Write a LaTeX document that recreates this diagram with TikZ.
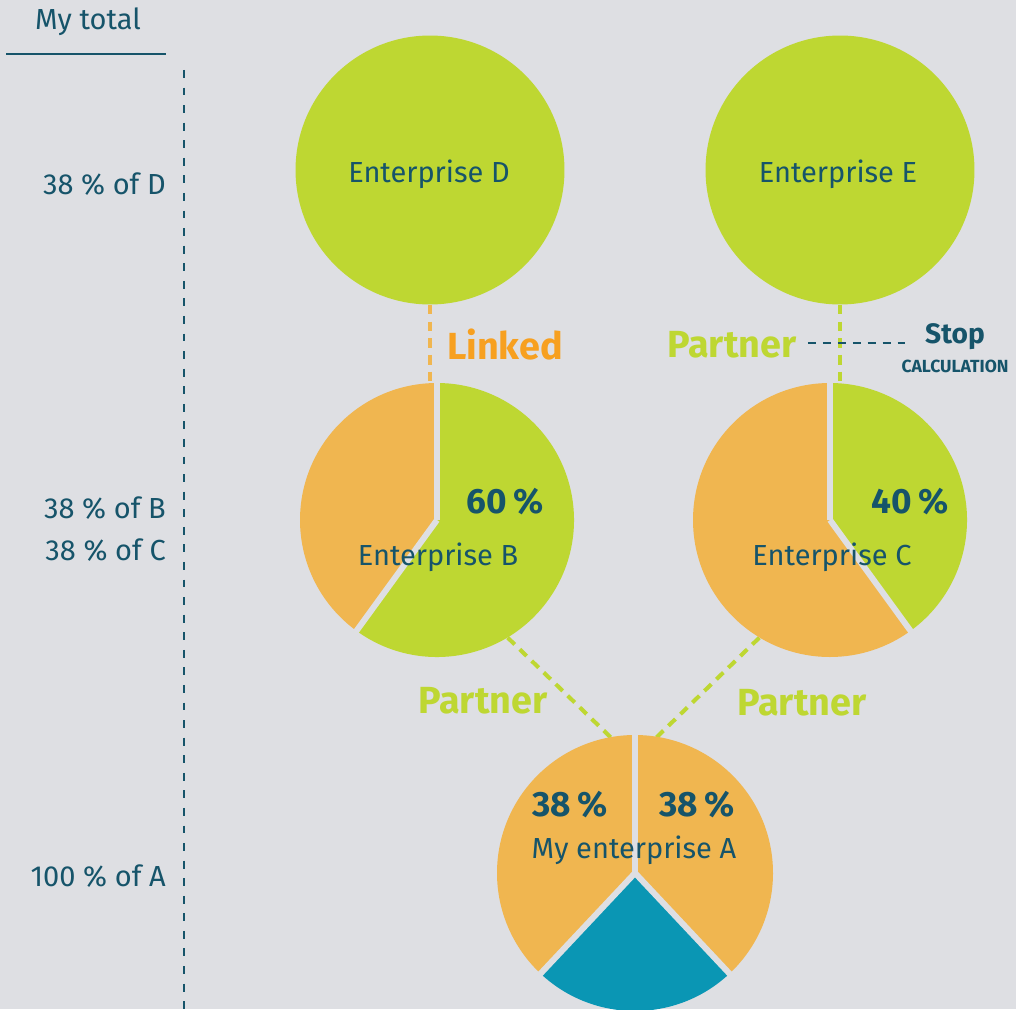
\documentclass[tikz,border=0pt]{standalone}
\usepackage{fontspec}
\setmainfont{Fira Sans}
\definecolor{bg}{RGB}{222,223,227}
\definecolor{ink}{RGB}{22,84,106}
\definecolor{lime}{RGB}{190,215,50}
\definecolor{amber}{RGB}{240,182,80}
\definecolor{tangerine}{RGB}{247,160,32}
\definecolor{sea}{RGB}{10,150,180}

\begin{document}
\begin{tikzpicture}
[
    x = 0.02cm, y = 0.02cm,
    every node/.append style = {text = ink, font = \fontsize{16.5}{19}\selectfont},
    ent/.style = {circle, fill = lime, minimum size = 5.38cm, inner sep = 0},
    ring/.style = {circle, minimum size = 5.48cm, inner sep = 0},
    link/.style = {line width = 2.3pt, dash pattern = on 5.5pt off 4pt},
    cut/.style = {bg, line width = 3.4pt},
    rel/.style = {font = \bfseries\fontsize{21.5}{24}\selectfont},
    share/.style = {text = ink, font = \bfseries\fontsize{20}{22}\selectfont},
    level/.style = {anchor = east}]

\fill [bg] (0,0) rectangle (1016,1009);
\useasboundingbox (0,0) rectangle (1016,1009);

\node (head) at (88,987) {My total};
\coordinate (headL) at (6,955);
\coordinate (headR) at (166,955);
\draw [ink, line width = 1.7pt] (headL) -- (headR);
\coordinate (axisT) at (184,939);
\coordinate (axisB) at (184,0);
\draw [ink, line width = 1pt, dash pattern = on 4.5pt off 5.5pt] (axisT) -- (axisB);

\node [level] (lvD) at (172,825) {38 \% of D};
\node [level] (lvB) at (172,501) {38 \% of B};
\node [level] (lvC) at (172,459) {38 \% of C};
\node [level] (lvA) at (172,133) {100 \% of A};

\node [ent] (D) at (430,839) {};
\node [ent] (E) at (840,839) {};
\node (nameD) at (429,835) {Enterprise D};
\node (nameE) at (838,835) {Enterprise E};
\node [ring] (B) at (437,489) {};
\node [ring] (C) at (830,489) {};
\node [ring] (A) at (635,136) {};

\draw [link, amber] (D.south) -- (D.south |- B.north);
\draw [link, lime] (E.south) -- ([yshift=-10]E.south |- C.north);
\draw [link, lime] (B.-59) -- (A.100);
\draw [link, lime] (C.-121) -- (A.81);

\fill [amber] (B.center) -- ++(90:137) arc [start angle = 90, end angle = 234, radius = 137] -- cycle;
\fill [lime] (B.center) -- ++(234:137) arc [start angle = 234, end angle = 450, radius = 137] -- cycle;
\draw [cut] (B.center) -- ++(90:140);
\draw [cut] (B.center) -- ++(234:140);

\fill [amber] (C.center) -- ++(90:137) arc [start angle = 90, end angle = 306, radius = 137] -- cycle;
\fill [lime] (C.center) -- ++(-54:137) arc [start angle = -54, end angle = 90, radius = 137] -- cycle;
\draw [cut] (C.center) -- ++(90:140);
\draw [cut] (C.center) -- ++(-54:140);

\fill [amber] (A.center) -- ++(90:138) arc [start angle = 90, end angle = 226.8, radius = 138] -- cycle;
\fill [sea] (A.center) -- ++(226.8:138) arc [start angle = 226.8, end angle = 313.2, radius = 138] -- cycle;
\fill [amber] (A.center) -- ++(313.2:138) arc [start angle = 313.2, end angle = 450, radius = 138] -- cycle;
\draw [cut] (A.center) -- ++(90:141);
\draw [cut] (A.center) -- ++(226.8:141);
\draw [cut] (A.center) -- ++(313.2:141);

\node (nameB) at (438,452) {Enterprise B};
\node (nameC) at (832,452) {Enterprise C};
\node (nameA) at (634,159) {My enterprise A};
\node [share] (pctB) at (505,507) {60\,\%};
\node [share] (pctC) at (910,507) {40\,\%};
\node [share] (pctAB) at (570,204) {38\,\%};
\node [share] (pctAC) at (697,204) {38\,\%};

\node [rel, text = tangerine] (linked) at (505,664) {Linked};
\node [rel, text = lime] (partE) at (732,664) {Partner};
\node [rel, text = lime] (partB) at (483,308) {Partner};
\node [rel, text = lime] (partC) at (802,306) {Partner};
\node [share, font = \bfseries\fontsize{16}{18}\selectfont] (stop) at (955,672) {Stop};
\node [share, font = \bfseries\fontsize{10}{12}\selectfont] (calc) at (955,643) {CALCULATION};
\draw [ink, line width = 1pt, dash pattern = on 4.5pt off 4pt] ([xshift=3]partE.east |- 0,666) -- ([xshift=-4]stop.west |- 0,666);

\end{tikzpicture}
\end{document}
